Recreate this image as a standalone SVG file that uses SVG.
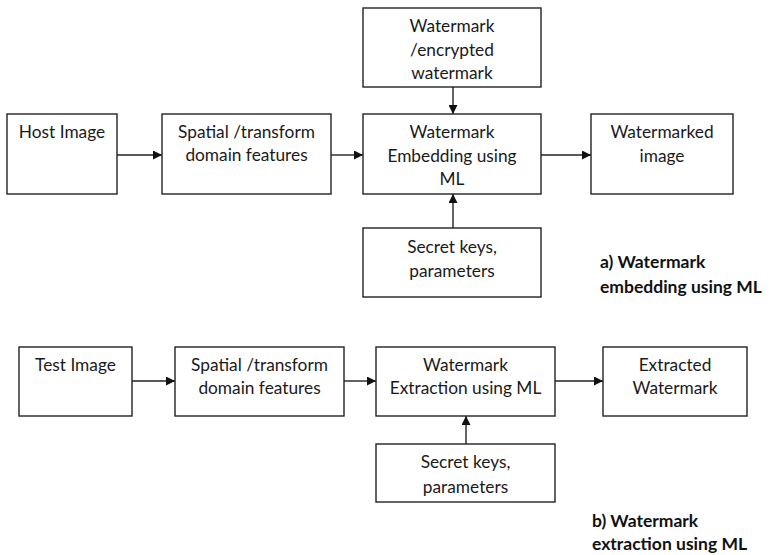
<svg xmlns="http://www.w3.org/2000/svg" width="770" height="555" viewBox="0 0 770 555">
<style>
.box{fill:#fff;stroke:#222;stroke-width:1.4}
.t{font-family:Lato,"Liberation Sans",sans-serif;font-size:17.3px;fill:#1a1a1a;text-anchor:middle}
.lb{font-family:Lato,"Liberation Sans",sans-serif;font-size:17.5px;font-weight:bold;fill:#111}
.c{stroke:#222;stroke-width:1.4;fill:none;marker-end:url(#ah)}
</style>
<defs>
<marker id="ah" viewBox="0 0 10 10" refX="10" refY="5" markerWidth="9" markerHeight="9" markerUnits="userSpaceOnUse" orient="auto">
<path d="M0,0 L10,5 L0,10 Z" fill="#111"/>
</marker>
</defs>
<rect width="770" height="555" fill="#fff"/>
<g id="connectors">
<line class="c" x1="117" y1="155" x2="162" y2="155"/>
<line class="c" x1="331" y1="155" x2="363" y2="155"/>
<line class="c" x1="453" y1="87" x2="453" y2="114"/>
<line class="c" x1="453" y1="228" x2="453" y2="194"/>
<line class="c" x1="541" y1="155" x2="591" y2="155"/>
<line class="c" x1="132" y1="381" x2="175" y2="381"/>
<line class="c" x1="344" y1="381" x2="376" y2="381"/>
<line class="c" x1="555" y1="381" x2="603" y2="381"/>
<line class="c" x1="466" y1="444" x2="466" y2="416"/>
</g>
<g id="host">
<rect class="box" x="7" y="114" width="110" height="80"/>
<text class="t" x="62" y="138">Host Image</text>
</g>
<g id="spatial1">
<rect class="box" x="162" y="114" width="169" height="80"/>
<text class="t" x="246.5" y="138">Spatial /transform</text>
<text class="t" x="246.5" y="161">domain features</text>
</g>
<g id="wm">
<rect class="box" x="363" y="8" width="178" height="79"/>
<text class="t" x="452" y="32">Watermark</text>
<text class="t" x="452" y="56">/encrypted</text>
<text class="t" x="452" y="79">watermark</text>
</g>
<g id="embed">
<rect class="box" x="363" y="114" width="178" height="80"/>
<text class="t" x="452" y="138">Watermark</text>
<text class="t" x="452" y="162">Embedding using</text>
<text class="t" x="452" y="185">ML</text>
</g>
<g id="wmimg">
<rect class="box" x="591" y="114" width="142" height="80"/>
<text class="t" x="662" y="138">Watermarked</text>
<text class="t" x="662" y="162">image</text>
</g>
<g id="keys1">
<rect class="box" x="363" y="228" width="178" height="69"/>
<text class="t" x="452" y="253">Secret keys,</text>
<text class="t" x="452" y="277">parameters</text>
</g>
<g id="label-a">
<text class="lb" x="600" y="268">a) Watermark</text>
<text class="lb" x="600" y="293">embedding using ML</text>
</g>
<g id="test">
<rect class="box" x="19" y="347" width="113" height="69"/>
<text class="t" x="75.5" y="371">Test Image</text>
</g>
<g id="spatial2">
<rect class="box" x="175" y="347" width="169" height="69"/>
<text class="t" x="259.5" y="371">Spatial /transform</text>
<text class="t" x="259.5" y="394">domain features</text>
</g>
<g id="extract">
<rect class="box" x="376" y="347" width="179" height="69"/>
<text class="t" x="465.5" y="371">Watermark</text>
<text class="t" x="465.5" y="394">Extraction using ML</text>
</g>
<g id="extracted">
<rect class="box" x="603" y="347" width="144" height="69"/>
<text class="t" x="675" y="371">Extracted</text>
<text class="t" x="675" y="394">Watermark</text>
</g>
<g id="keys2">
<rect class="box" x="376" y="444" width="179" height="58"/>
<text class="t" x="465.5" y="468">Secret keys,</text>
<text class="t" x="465.5" y="493">parameters</text>
</g>
<g id="label-b">
<text class="lb" x="592" y="527">b) Watermark</text>
<text class="lb" x="592" y="550">extraction using ML</text>
</g>
</svg>
